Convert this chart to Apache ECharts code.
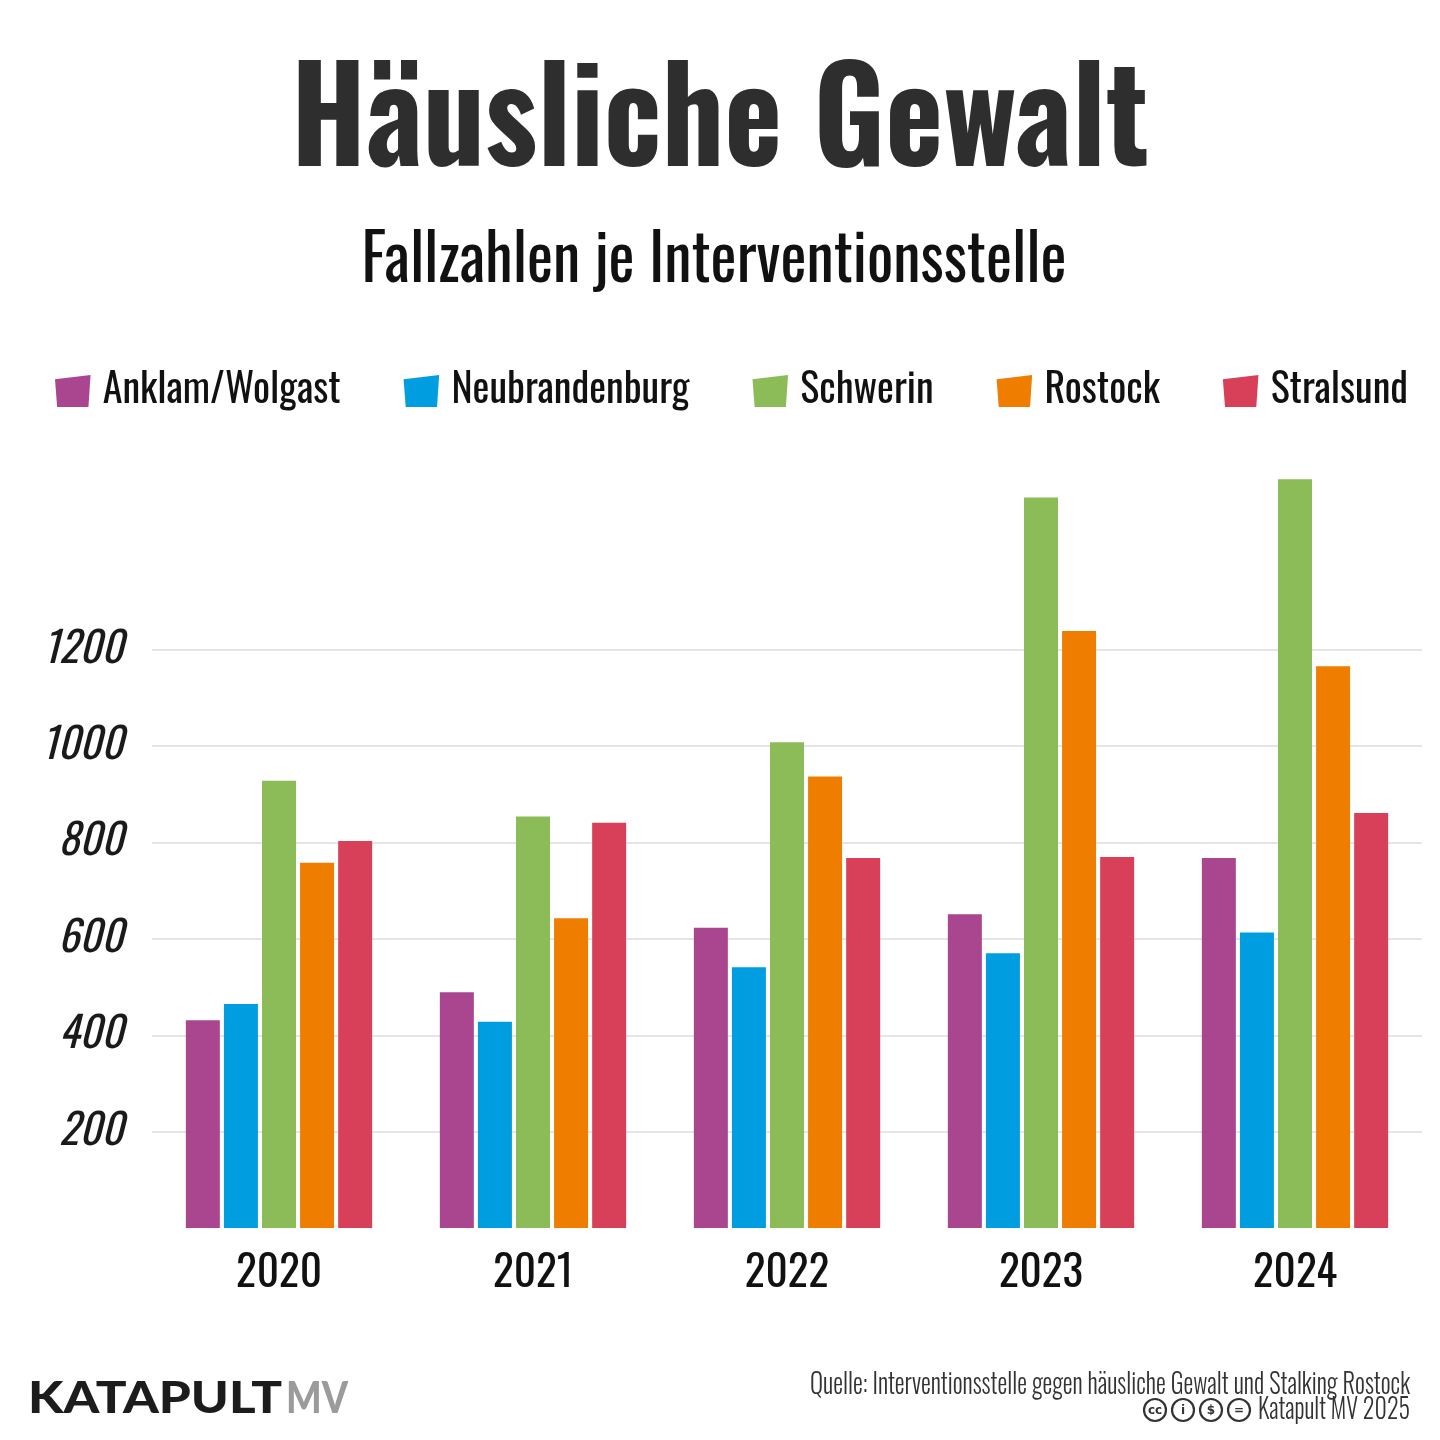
<!DOCTYPE html>
<html><head><meta charset="utf-8">
<script src="https://cdn.jsdelivr.net/npm/echarts@6/dist/echarts.min.js"></script>
<style>html,body{margin:0;padding:0;background:#fff}#c{width:1440px;height:1440px}</style>
</head><body><div id="c"></div>
<script>
const years = ['2020', '2021', '2022', '2023', '2024'];
const seriesNames = ['Anklam/Wolgast', 'Neubrandenburg', 'Schwerin', 'Rostock', 'Stralsund'];
const anklam = [431, 489, 623, 651, 768];
const neubrandenburg = [465, 428, 541, 570, 613];
const schwerin = [928, 854, 1008, 1516, 1554];
const rostock = [758, 643, 937, 1239, 1166];
const stralsund = [803, 841, 768, 770, 861];
const yTickLabels = [200, 400, 600, 800, 1000, 1200];
const colors = ['#a9468f', '#009ee0', '#8bbc57', '#ee7d00', '#d8405a'];

const FAM = "'Oswald','Roboto Condensed','DejaVu Sans Condensed',sans-serif";
const mctx = document.createElement('canvas').getContext('2d');
function w(font, text) { mctx.font = font; return mctx.measureText(text).width; }
function fit(text, font, target) { return target / w(font, text); }
function sizeFor(text, weight, style, target) {
  return Math.round(40 * target / w(style + ' ' + weight + ' 40px ' + FAM, text) * 10) / 10;
}

const titleFont = "bold 130px " + FAM;
const subFont = "normal 64px " + FAM;
const srcFont = "300 28px " + FAM;
const logoFont = "900 44px 'Lato','Inter',sans-serif";

const legendSize = sizeFor('Anklam/Wolgast', 'normal', 'normal', 238);
const xSize = sizeFor('2020', 'normal', 'normal', 86);
const ySize = sizeFor('1200', 'normal', 'italic', 80);

function ccIcon(cx, cy, label) {
  return [
    { type: 'circle', shape: { cx: cx, cy: cy, r: 11 }, style: { fill: 'none', stroke: '#333', lineWidth: 2.2 } },
    { type: 'text', x: cx, y: cy + 1, style: { text: label, fill: '#333', font: "bold 12px 'DejaVu Sans',sans-serif", align: 'center', verticalAlign: 'middle' } }
  ];
}

const dataSets = [anklam, neubrandenburg, schwerin, rostock, stralsund];
const series = seriesNames.map((n, i) => ({
  name: n, type: 'bar', data: dataSets[i], barWidth: 34, barGap: '12%',
  itemStyle: { color: colors[i] }
}));

const chart = echarts.init(document.getElementById('c'), null, { renderer: 'canvas' });
chart.setOption({
  animation: false,
  backgroundColor: '#ffffff',
  color: colors,
  legend: {
    top: 366, left: 50, itemWidth: 36, itemHeight: 32, itemGap: 63,
    icon: 'path://M0,1.2L10,0L9.4,9L0.6,9Z',
    textStyle: { fontSize: legendSize, fontFamily: FAM, color: '#111', padding: [0, 0, 0, 7] },
    data: seriesNames
  },
  grid: { left: 152, right: 18, top: 457, bottom: 212, containLabel: false },
  xAxis: {
    type: 'category', data: years,
    axisLine: { show: false }, axisTick: { show: false },
    axisLabel: { fontSize: xSize, fontFamily: FAM, color: '#111', margin: 24 }
  },
  yAxis: {
    type: 'value', min: 0, max: 1600, interval: 200,
    axisLine: { show: false }, axisTick: { show: false },
    axisLabel: {
      fontSize: ySize, fontFamily: FAM, fontStyle: 'italic', fontWeight: 'normal', color: '#1a1a1a', margin: 29,
      formatter: v => (yTickLabels.indexOf(v) >= 0 ? String(v) : '')
    },
    splitLine: {
      lineStyle: {
        width: 1.5,
        color: ['rgba(0,0,0,0)', '#dddddd', '#dddddd', '#dddddd', '#dddddd', '#dddddd', '#dddddd', 'rgba(0,0,0,0)', 'rgba(0,0,0,0)']
      }
    }
  },
  graphic: [
    { type: 'text', x: 720, y: 126, scaleX: fit('Häusliche Gewalt', titleFont, 858),
      style: { text: 'Häusliche Gewalt', font: titleFont, fill: '#2e2e2e', align: 'center', verticalAlign: 'middle' } },
    { type: 'text', x: 714, y: 262, scaleX: fit('Fallzahlen je Interventionsstelle', subFont, 705),
      style: { text: 'Fallzahlen je Interventionsstelle', font: subFont, fill: '#111', align: 'center', verticalAlign: 'middle' } },
    { type: 'text', x: 28, y: 1399, scaleX: fit('KATAPULT', logoFont, 254),
      style: { text: 'KATAPULT', font: logoFont, fill: '#1c1c1c', align: 'left', verticalAlign: 'middle' } },
    { type: 'text', x: 286, y: 1399, scaleX: fit('MV', logoFont, 62),
      style: { text: 'MV', font: logoFont, fill: '#9b9b9b', align: 'left', verticalAlign: 'middle' } },
    { type: 'text', x: 1410, y: 1385, scaleX: fit('Quelle: Interventionsstelle gegen häusliche Gewalt und Stalking Rostock', srcFont, 600),
      style: { text: 'Quelle: Interventionsstelle gegen häusliche Gewalt und Stalking Rostock', font: srcFont, fill: '#333', align: 'right', verticalAlign: 'middle' } },
    { type: 'text', x: 1410, y: 1410, scaleX: fit('Katapult MV 2025', srcFont, 152),
      style: { text: 'Katapult MV 2025', font: srcFont, fill: '#333', align: 'right', verticalAlign: 'middle' } },
    ...ccIcon(1155, 1410, 'cc'),
    ...ccIcon(1183, 1410, 'i'),
    ...ccIcon(1211, 1410, '$'),
    ...ccIcon(1239, 1410, '=')
  ],
  series: series
});
</script>
</body></html>
